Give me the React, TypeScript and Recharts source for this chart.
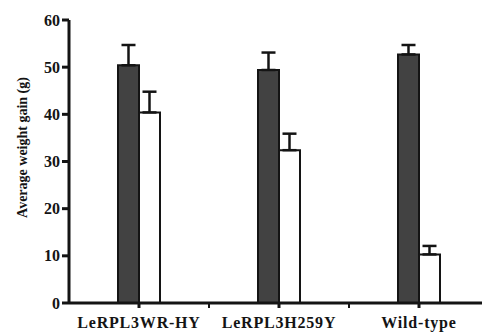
import { BarChart, Bar, XAxis, YAxis, ErrorBar } from "recharts"

const categories = ["LeRPL3WR-HY", "LeRPL3H259Y", "Wild-type"]
const darkValues = [50.4, 49.4, 52.7]
const darkErrors = [4.3, 3.7, 2.0]
const whiteValues = [40.4, 32.4, 10.3]
const whiteErrors = [4.4, 3.5, 1.8]
const yTicks = [0, 10, 20, 30, 40, 50, 60]

const data = categories.map((name, i) => ({
  name,
  dark: darkValues[i],
  darkErr: [0, darkErrors[i]],
  white: whiteValues[i],
  whiteErr: [0, whiteErrors[i]],
}))

const CHART_W = 490
const CHART_H = 335
const Y_AXIS_W = 69
const MARGIN = { top: 20, right: 1, bottom: 0, left: 0 }
const font = "'Liberation Serif', 'Times New Roman', serif"
const ink = "#141414"

const bandWidth = (CHART_W - Y_AXIS_W - MARGIN.left - MARGIN.right) / categories.length

function CategoryTick(props: any) {
  const { x, y, payload, index } = props
  return (
    <g>
      {index < categories.length - 1 && (
        <line x1={x + bandWidth / 2} x2={x + bandWidth / 2} y1={y - 7} y2={y - 2} stroke={ink} strokeWidth={2} />
      )}
      <text
        x={x}
        y={y + 18}
        textAnchor="middle"
        fontFamily={font}
        fontWeight="bold"
        fontSize={16}
        letterSpacing={0.8}
        fill={ink}
      >
        {payload.value}
      </text>
    </g>
  )
}

function ValueTick(props: any) {
  const { x, y, payload } = props
  return (
    <text
      x={x}
      y={y}
      textAnchor="end"
      dominantBaseline="central"
      fontFamily={font}
      fontWeight="bold"
      fontSize={16}
      fill={ink}
    >
      {payload.value}
    </text>
  )
}

function YLabel(props: any) {
  const { viewBox } = props
  const cx = viewBox.x + 22
  const cy = viewBox.y + viewBox.height / 2 - 14
  return (
    <text
      x={cx}
      y={cy}
      transform={`rotate(-90, ${cx}, ${cy})`}
      textAnchor="middle"
      dominantBaseline="central"
      fontFamily={font}
      fontWeight="bold"
      fontSize={14}
      fill={ink}
    >
      Average weight gain (g)
    </text>
  )
}

export default function App() {
  return (
    <div style={{ position: "absolute", left: 0, top: 0, width: 482, height: 335, overflow: "hidden", background: "#fff" }}>
      <BarChart width={CHART_W} height={CHART_H} data={data} margin={MARGIN} barGap={0} barSize={21}>
        <XAxis
          dataKey="name"
          height={CHART_H - 303}
          stroke={ink}
          strokeWidth={3}
          tickSize={5}
          tick={<CategoryTick />}
          interval={0}
        />
        <YAxis
          width={Y_AXIS_W}
          domain={[0, 60]}
          ticks={yTicks}
          stroke={ink}
          strokeWidth={3}
          tickSize={7}
          tick={<ValueTick />}
          label={<YLabel />}
        />
        <Bar dataKey="dark" fill="#424242" stroke={ink} strokeWidth={2} isAnimationActive={false}>
          <ErrorBar dataKey="darkErr" width={7} stroke={ink} strokeWidth={2.5} direction="y" />
        </Bar>
        <Bar dataKey="white" fill="#ffffff" stroke={ink} strokeWidth={2} isAnimationActive={false}>
          <ErrorBar dataKey="whiteErr" width={7} stroke={ink} strokeWidth={2.5} direction="y" />
        </Bar>
      </BarChart>
    </div>
  )
}
